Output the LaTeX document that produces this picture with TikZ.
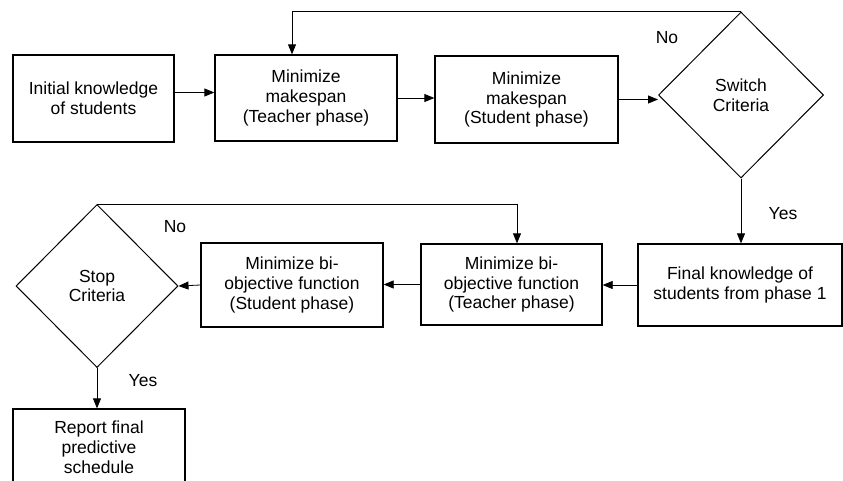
\documentclass[tikz,border=0pt]{standalone}
\usepackage{fontspec}
\setmainfont{Liberation Sans}
\usetikzlibrary{shapes.geometric,arrows.meta}
\begin{document}
\begin{tikzpicture}[x=1pt,y=-1pt,
 txt/.style={font=\fontsize{17.5}{19.8}\selectfont, align=center, inner sep=0pt},
 box/.style={txt, draw, line width=1.3pt},
 dia/.style={txt, draw, diamond, aspect=1, line width=1pt},
 arr/.style={-{Triangle[length=10pt,width=8pt]}, line width=0.8pt},
 conn/.style={line width=0.8pt}]
\path[use as bounding box, clip] (0,0) rectangle (843,480);
\fill[white] (0,0) rectangle (843,480);
% top row
\node[box, minimum width=161pt, minimum height=87pt] (b1) at (93.5,98.5) {Initial knowledge\\of students};
\node[box, minimum width=182pt, minimum height=86pt] (b2) at (306,98) {Minimize\\makespan\\(Teacher phase)};
\node[box, minimum width=183pt, minimum height=87pt] (b3) at (526.5,99.5) {Minimize\\makespan\\(Student phase)};
\node[dia, minimum width=165pt, minimum height=166pt] (sw) at (741,95) {Switch\\Criteria};
% second row
\node[box, minimum width=204pt, minimum height=82pt] (fin) at (740,285) {Final knowledge of\\students from phase 1};
\node[box, minimum width=181pt, minimum height=81pt] (tb) at (511.5,284.5) {Minimize bi-\\objective function\\(Teacher phase)};
\node[box, minimum width=182pt, minimum height=84pt] (sb) at (292,285) {Minimize bi-\\objective function\\(Student phase)};
\node[dia, minimum width=162pt, minimum height=163pt] (st) at (97,286) {Stop\\Criteria};
% report box (extends below the picture)
\node[draw, line width=1.3pt, inner sep=0pt, minimum width=172pt, minimum height=90pt] (rep) at (99,454) {};
\node[txt] (rept) at (99,447) {Report final\\predictive\\schedule};
% labels
\node[txt] (no1) at (667,38) {No};
\node[txt] (yes1) at (783,214) {Yes};
\node[txt] (no2) at (175,227) {No};
\node[txt] (yes2) at (143,381) {Yes};
% connectors
\draw[arr] ([yshift=6pt]b1.east) -- ([yshift=6pt]b1.east -| b2.west);
\draw[arr] (b2.east) -- (b3.west |- b2.east);
\draw[arr] (b3.east) -- (sw.west |- b3.east);
\draw[arr] (sw.north) -| ([xshift=-14pt]b2.north);
\draw[arr] (sw.south) -- (sw.south |- fin.north);
\draw[arr] (fin.west) -- (tb.east |- fin.west);
\draw[arr] (tb.west) -- (sb.east |- tb.west);
\draw[arr] (sb.west) -- (st.east);
\draw[arr] (st.north) -| ([xshift=5.5pt]tb.north);
\draw[arr] (st.south) -- (st.south |- rep.north);
\end{tikzpicture}
\end{document}
